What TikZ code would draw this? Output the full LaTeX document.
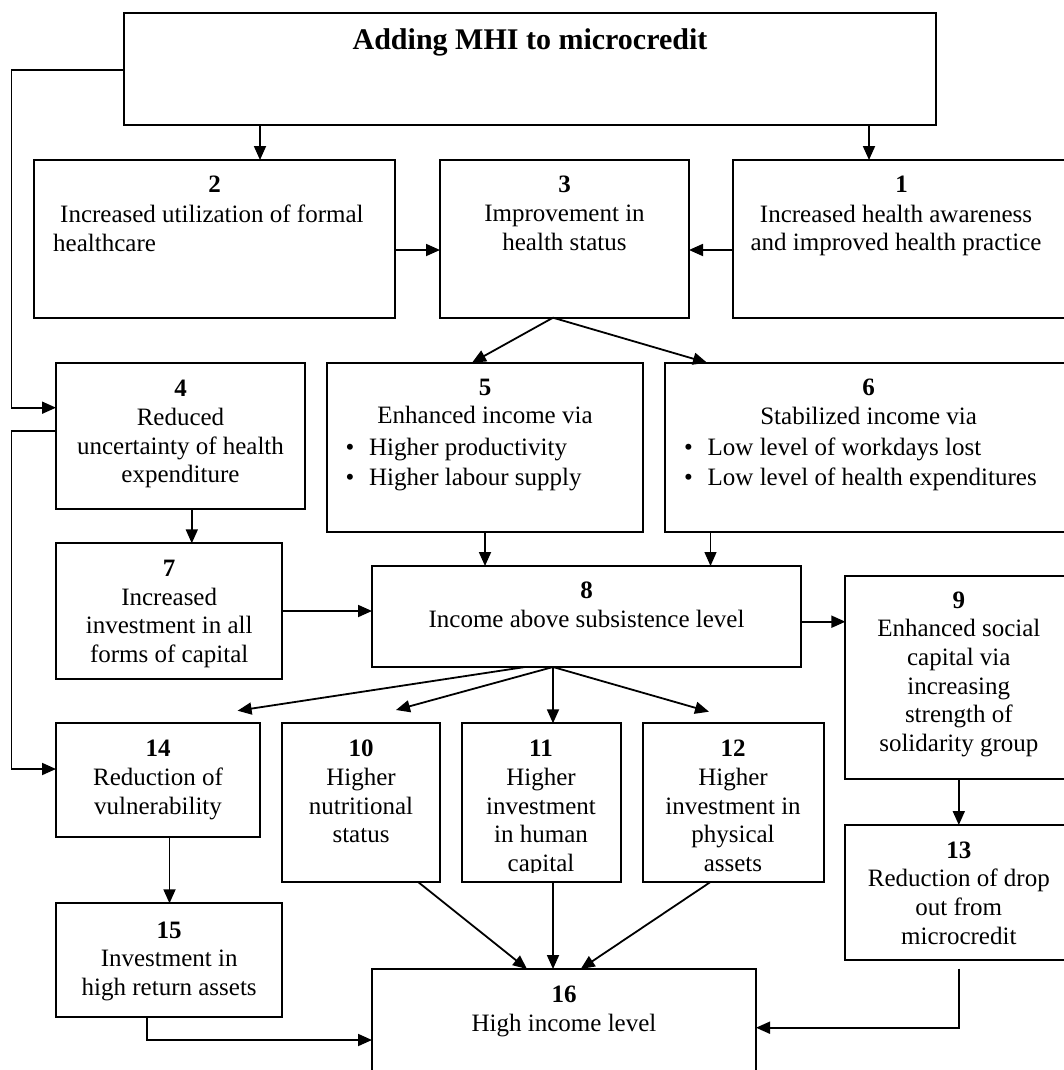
\documentclass[tikz,border=0pt]{standalone}
\usepackage{fontspec}
\setmainfont{Liberation Serif}
\usetikzlibrary{arrows.meta}
\newcommand\mybox[5]{\node[box, minimum width=#4-#2, minimum height=#5-#3] (#1) at (#2,#3) {};}
\newcommand\blt{\makebox[23.5pt][l]{\textbullet}}
\begin{document}
\begin{tikzpicture}[x=1pt,y=-1pt,
  box/.style={draw, line width=2pt, anchor=north west, inner sep=0pt, outer sep=0pt},
  txt/.style={align=center, inner sep=0pt, font=\fontsize{25}{28.7}\selectfont},
  arr/.style={line width=1.8pt, -{Triangle[length=14pt,width=12pt]}}]
\useasboundingbox (0,0) rectangle (1064,1070);
\clip (0,0) rectangle (1064,1070);
\fill[white] (0,0) rectangle (1064,1070);
% boxes
\mybox{top}{124}{12.7}{936}{125.3}
\mybox{b2}{34}{160}{395}{317.7}
\mybox{b3}{440}{160}{689}{317.7}
\mybox{b1}{733}{160}{1072}{317.7}
\mybox{b4}{56}{362.7}{305}{509}
\mybox{b5}{327}{362.7}{643}{531.7}
\mybox{b6}{665}{362.7}{1072}{531.7}
\mybox{b7}{56}{543.3}{282.4}{679}
\mybox{b8}{372}{566}{801}{667}
\mybox{b9}{845.4}{576}{1072}{779.3}
\mybox{b14}{56}{723.3}{260}{836.7}
\mybox{b10}{281.7}{723.3}{440}{882.3}
\mybox{b11}{461.5}{723.3}{620.6}{882.3}
\mybox{b12}{642.8}{723.3}{823.5}{882.3}
\mybox{b13}{845.4}{825}{1072}{960}
\mybox{b15}{56}{903.3}{282.4}{1017.3}
\mybox{b16}{372}{969}{756}{1085}
% texts
\node[txt, font=\bfseries\fontsize{30}{34}\selectfont, anchor=base] (title) at (530,50) {Adding MHI to microcredit};
\node[txt, anchor=north] (n2) at (214.5,176) {\textbf{2}};
\node[txt, align=left, anchor=north west] (t2) at (53,205) {\hspace*{7pt}Increased utilization of formal\\healthcare};
\node[txt, anchor=north] (t3) at (564.5,176) {\textbf{3}\\Improvement in\\health status};
\node[txt, anchor=north] (n1) at (901.6,176) {\textbf{1}};
\node[txt, anchor=north] (t1) at (896,204.7) {Increased health awareness\\and improved health practice};
\node[txt, anchor=north] (t4) at (180.5,380) {\textbf{4}\\Reduced\\uncertainty of health\\expenditure};
\node[txt, anchor=north] (t5) at (485,378.5) {\textbf{5}\\Enhanced income via};
\node[txt, anchor=base west] (t5a) at (345.5,455.5) {\blt Higher productivity};
\node[txt, anchor=base west] (t5b) at (345.5,485.5) {\blt Higher labour supply};
\node[txt, anchor=north] (t6) at (868.6,379) {\textbf{6}\\Stabilized income via};
\node[txt, anchor=base west] (t6a) at (684,455.5) {\blt Low level of workdays lost};
\node[txt, anchor=base west] (t6b) at (684,485.5) {\blt Low level of health expenditures};
\node[txt, anchor=north] (t7) at (169.2,560) {\textbf{7}\\Increased\\investment in all\\forms of capital};
\node[txt, anchor=north] (t8) at (586.5,581.5) {\textbf{8}\\Income above subsistence level};
\node[txt, anchor=north] (t9) at (958.8,591.3) {\textbf{9}\\Enhanced social\\capital via\\increasing\\strength of\\solidarity group};
\node[txt, anchor=north] (t14) at (158,740) {\textbf{14}\\Reduction of\\vulnerability};
\node[txt, anchor=north] (t10) at (361,740) {\textbf{10}\\Higher\\nutritional\\status};
\begin{scope}
\clip (461.5,700) rectangle (620.6,872);
\node[txt, anchor=north] (t11) at (541,740) {\textbf{11}\\Higher\\investment\\in human\\capital};
\end{scope}
\node[txt, anchor=north] (t12) at (733,740) {\textbf{12}\\Higher\\investment in\\physical\\assets};
\node[txt, anchor=north] (t13) at (958.8,841.3) {\textbf{13}\\Reduction of drop\\out from\\microcredit};
\node[txt, anchor=north] (t15) at (169.2,921.3) {\textbf{15}\\Investment in\\high return assets};
\node[txt, anchor=north] (t16) at (564,986) {\textbf{16}\\High income level};
% free ends
\coordinate (e14) at (237.6,710.7);
\coordinate (e10) at (396,710);
\coordinate (e12) at (709,711.7);
\coordinate (s13) at (958.8,968.7);
% connectors
\draw[arr] (top.west |- 0,70) -| (11.4,407.7) -- (b4.west |- 0,407.7);
\draw[arr] (b4.west |- 0,430.7) -| (11.4,769) -- (b14.west |- 0,769);
\draw[arr] (top.south -| 260,0) -- (b2.north -| 260,0);
\draw[arr] (top.south -| 869,0) -- (b1.north -| 869,0);
\draw[arr] (b2.east |- 0,250) -- (b3.west |- 0,250);
\draw[arr] (b1.west |- 0,250) -- (b3.east |- 0,250);
\draw[arr] (b3.south -| 553,0) -- (b5.north -| 472,0);
\draw[arr] (b3.south -| 553,0) -- (b6.north -| 707,0);
\draw[arr] (b4.south -| 191.8,0) -- (b7.north -| 191.8,0);
\draw[arr] (b5.south -| 485,0) -- (b8.north -| 485,0);
\draw[arr, line width=1.3pt] (b6.south -| 710.5,0) -- (b8.north -| 710.5,0);
\draw[arr] (b7.east |- 0,611) -- (b8.west |- 0,611);
\draw[arr] (b8.east |- 0,621.7) -- (b9.west |- 0,621.7);
\draw[arr] (b8.south -| 525,0) -- (e14);
\draw[arr] (b8.south -| 553,0) -- (e10);
\draw[arr] (b8.south -| 553,0) -- (b11.north -| 553,0);
\draw[arr] (b8.south -| 553,0) -- (e12);
\draw[arr] (b9.south -| 958.8,0) -- (b13.north -| 958.8,0);
\draw[arr] (b14.south -| 169.5,0) -- (b15.north -| 169.5,0);
\draw[arr] (b10.south -| 418.5,0) -- (b16.north -| 527,0);
\draw[arr] (b11.south -| 553,0) -- (b16.north -| 553,0);
\draw[arr] (b12.south -| 710,0) -- (b16.north -| 580.7,0);
\draw[arr] (b15.south -| 147,0) |- (b16.west |- 0,1040);
\draw[arr] (s13) |- (b16.east |- 0,1027.7);
\end{tikzpicture}
\end{document}
